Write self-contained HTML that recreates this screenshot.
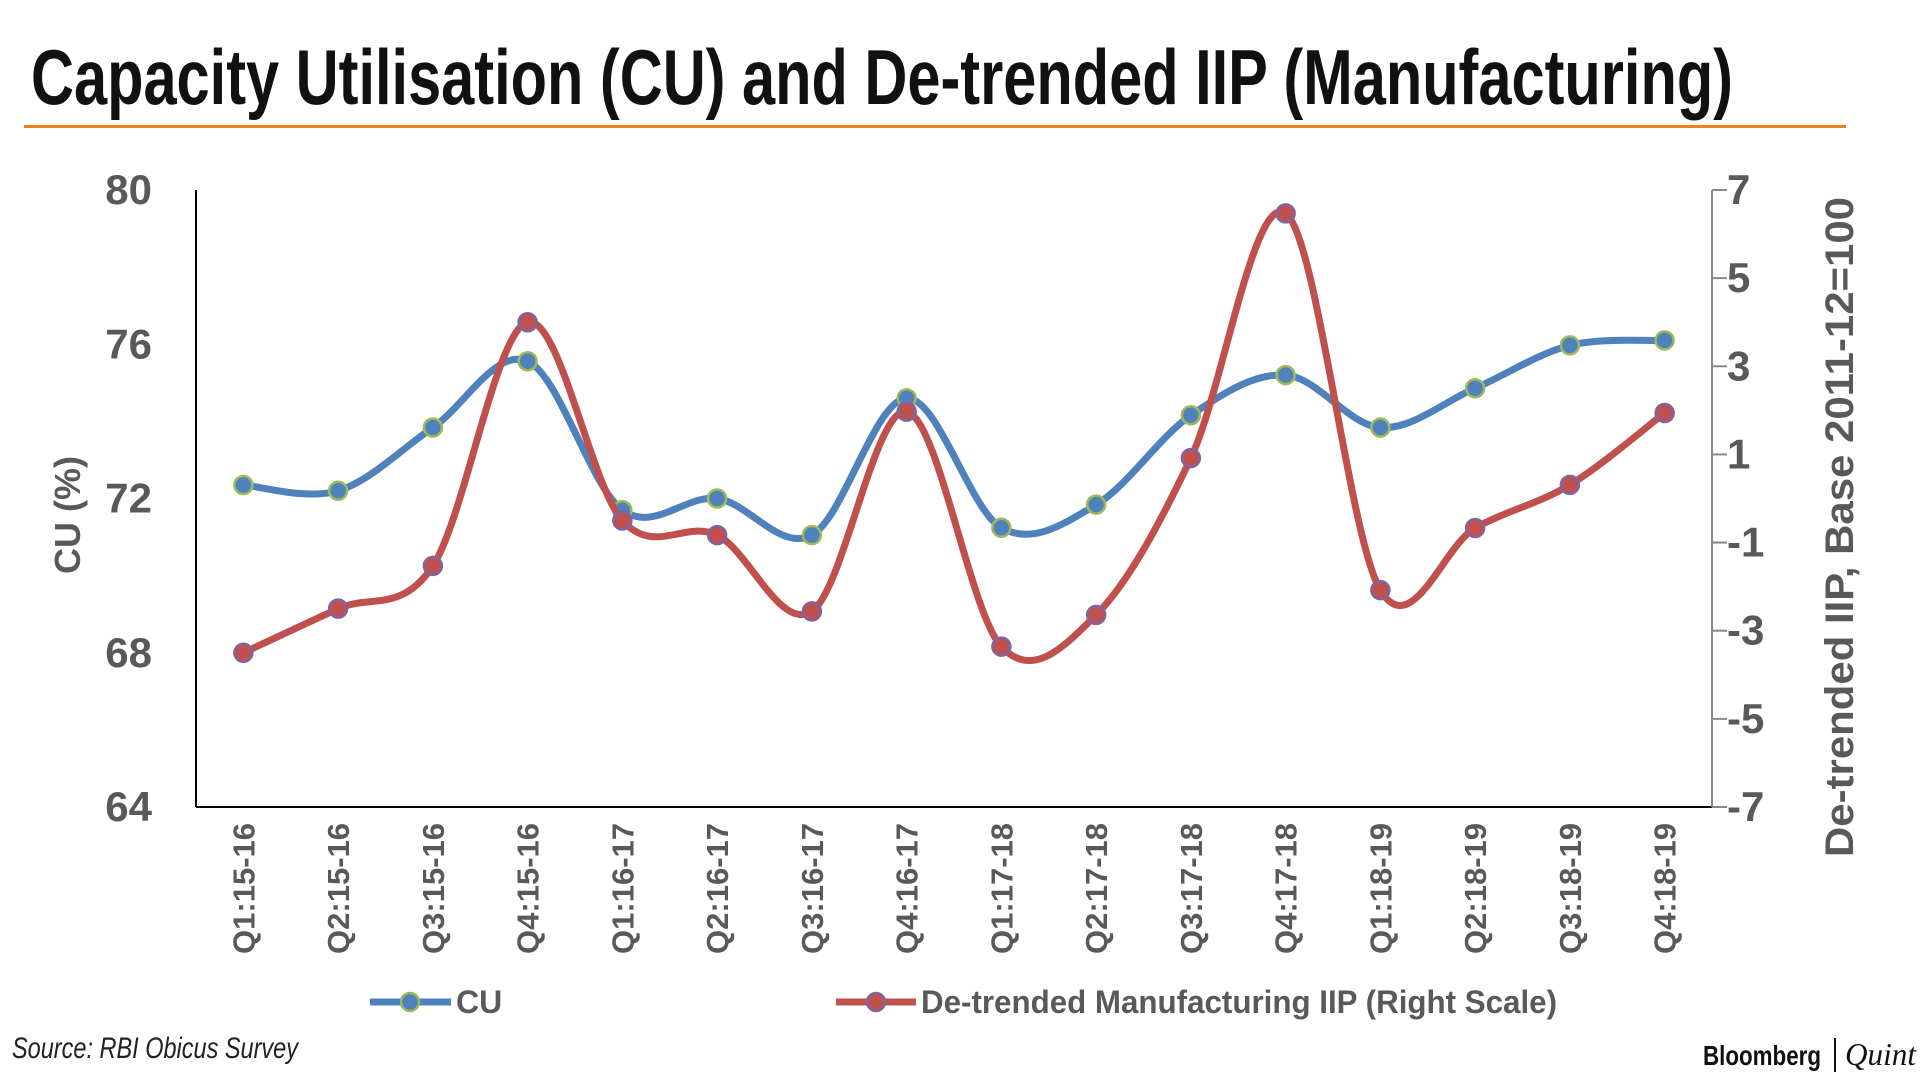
<!DOCTYPE html>
<html><head><meta charset="utf-8"><style>
html,body{margin:0;padding:0;background:#fff;}
svg{display:block;}
</style></head><body>
<svg id="chart" width="1920" height="1080" viewBox="0 0 1920 1080" xmlns="http://www.w3.org/2000/svg">
<text x="31" y="104" font-family="'Liberation Sans Narrow','Liberation Sans',sans-serif" font-weight="bold" font-size="78" fill="#111" textLength="1702" lengthAdjust="spacingAndGlyphs">Capacity Utilisation (CU) and De-trended IIP (Manufacturing)</text>
<rect x="24" y="125" width="1822" height="3" fill="#e8841a"/>
<g id="plot"></g>
<text x="12" y="1058" font-family="'Liberation Sans Narrow','Liberation Sans',sans-serif" font-style="italic" font-size="30" fill="#222" textLength="286" lengthAdjust="spacingAndGlyphs">Source: RBI Obicus Survey</text>
<text x="1703" y="1065" font-family="'Liberation Sans Narrow','Liberation Sans',sans-serif" font-weight="bold" font-size="28" fill="#111" textLength="118" lengthAdjust="spacingAndGlyphs">Bloomberg</text>
<rect x="1834" y="1038" width="2" height="34" fill="#111"/>
<text x="1845" y="1065" font-family="'Liberation Serif',serif" font-style="italic" font-size="32" fill="#111" textLength="71" lengthAdjust="spacingAndGlyphs">Quint</text>
</svg>
<script>
const categories=["Q1:15-16","Q2:15-16","Q3:15-16","Q4:15-16","Q1:16-17","Q2:16-17","Q3:16-17","Q4:16-17","Q1:17-18","Q2:17-18","Q3:17-18","Q4:17-18","Q1:18-19","Q2:18-19","Q3:18-19","Q4:18-19"];
const cuValues=[72.35,72.2,73.84,75.56,71.7,72.0,71.05,74.6,71.24,71.84,74.16,75.2,73.84,74.86,75.97,76.1];
const iipValues=[-3.5,-2.5,-1.53,4.0,-0.5,-0.83,-2.56,1.97,-3.36,-2.64,0.92,6.47,-2.08,-0.67,0.31,1.94];
const leftTicks=[64,68,72,76,80];
const rightTicks=[-7,-5,-3,-1,1,3,5,7];

const NS="http://www.w3.org/2000/svg";
const g=document.getElementById('plot');
const L=196,R=1712,T=190,B=807;
const band=(R-L)/categories.length;
const xPos=i=>L+band*(i+0.5);
const yLeft=v=>B-(v-64)/(80-64)*(B-T);
const yRight=v=>B-(v+7)/14*(B-T);
function el(tag,attrs,text){const e=document.createElementNS(NS,tag);for(const k in attrs)e.setAttribute(k,attrs[k]);if(text!==undefined)e.textContent=text;g.appendChild(e);return e;}
const FB="'Liberation Sans',sans-serif";
const FN="'Liberation Sans Narrow','Liberation Sans',sans-serif";

let a=el('line',{x1:L,y1:T,x2:L,y2:B,stroke:'#000','stroke-width':2});


a=el('line',{x1:L,y1:B,x2:R,y2:B,stroke:'#000','stroke-width':2});


a=el('line',{x1:R,y1:T,x2:R,y2:B,stroke:'#888','stroke-width':2});



leftTicks.forEach(v=>{
  const t=el('text',{x:152,y:yLeft(v)+14,'text-anchor':'end','font-family':FN,'font-weight':'bold','font-size':42,fill:'#595959'},String(v));
  
  
});
rightTicks.forEach(v=>{
  const tk=el('line',{x1:R,y1:yRight(v),x2:R+15,y2:yRight(v),stroke:'#888','stroke-width':2});
  
  
  const t=el('text',{x:1727,y:yRight(v)+14,'font-family':FN,'font-weight':'bold','font-size':42,fill:'#595959'},String(v));
  
  
});
let at=el('text',{x:0,y:0,transform:'translate(80,515) rotate(-90)','text-anchor':'middle','font-family':FB,'font-weight':'bold','font-size':36,fill:'#595959'},'CU (%)');


at=el('text',{x:0,y:0,transform:'translate(1853,527) rotate(-90)','text-anchor':'middle','font-family':FB,'font-weight':'bold','font-size':40,fill:'#595959',textLength:660,lengthAdjust:'spacingAndGlyphs'},'De-trended IIP, Base 2011-12=100');



categories.forEach((c,i)=>{
  const t=el('text',{x:0,y:0,transform:`translate(${xPos(i)+11},823) rotate(-90)`,'text-anchor':'end','font-family':FB,'font-weight':'bold','font-size':31,fill:'#595959'},c);
  
  
});

function smoothPath(pts){
  let d=`M${pts[0][0]},${pts[0][1]}`;
  for(let i=0;i<pts.length-1;i++){
    const p0=pts[i-1]||pts[i],p1=pts[i],p2=pts[i+1],p3=pts[i+2]||p2;
    const k=1/6;
    d+=` C${p1[0]+(p2[0]-p0[0])*k},${p1[1]+(p2[1]-p0[1])*k} ${p2[0]-(p3[0]-p1[0])*k},${p2[1]-(p3[1]-p1[1])*k} ${p2[0]},${p2[1]}`;
  }
  return d;
}
function series(vals,yf,color,mstroke,name){
  const pts=vals.map((v,i)=>[xPos(i),yf(v)]);
  const p=el('path',{d:smoothPath(pts),fill:'none',stroke:color,'stroke-width':7,'stroke-linecap':'round'});
  
  
  pts.forEach(pt=>{
    const m=el('circle',{cx:pt[0],cy:pt[1],r:9,fill:color,stroke:mstroke,'stroke-width':2.5});
    
    
  });
}
series(cuValues,yLeft,'#4f81bd','#9bbb59','cu');
series(iipValues,yRight,'#c0504d','#8064a2','iip');

let lg=el('line',{x1:370,y1:1002,x2:451,y2:1002,stroke:'#4f81bd','stroke-width':7});


lg=el('circle',{cx:410,cy:1002,r:9,fill:'#4f81bd',stroke:'#9bbb59','stroke-width':2.5});


lg=el('text',{x:456,y:1013,'font-family':FN,'font-weight':'bold','font-size':32,fill:'#595959'},'CU');


lg=el('line',{x1:836,y1:1002,x2:916,y2:1002,stroke:'#c0504d','stroke-width':7});


lg=el('circle',{cx:876,cy:1002,r:9,fill:'#c0504d',stroke:'#8064a2','stroke-width':2.5});


lg=el('text',{x:921,y:1013,'font-family':FN,'font-weight':'bold','font-size':32,fill:'#595959',textLength:636,lengthAdjust:'spacingAndGlyphs'},'De-trended Manufacturing IIP (Right Scale)');


</script>
</body></html>
